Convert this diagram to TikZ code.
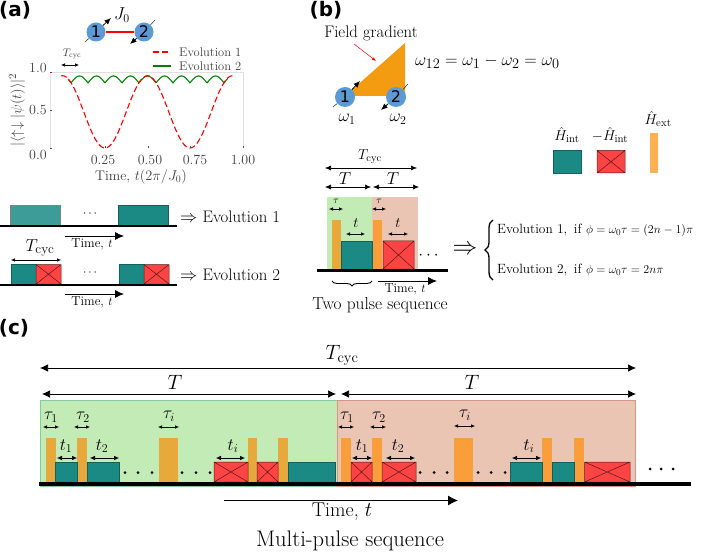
\documentclass[tikz,border=0pt]{standalone}
\usepackage{amsmath}
\usepackage{fontspec}
\newfontfamily\panelfont{DejaVu Sans}
\usepackage{tikz}
\usetikzlibrary{arrows,arrows.meta,calc,decorations.pathreplacing}
\definecolor{pulseteal}{HTML}{1B8A85}
\definecolor{pulsered}{HTML}{FC4444}
\definecolor{barongreen}{HTML}{E8A93C}
\definecolor{baronbrown}{HTML}{FA9E3C}
\definecolor{spinblue}{HTML}{5B9BD5}
\definecolor{bggreen}{HTML}{C2EBB5}
\definecolor{bgbrown}{HTML}{EAC5B3}
\definecolor{wedge}{HTML}{F39C12}
\definecolor{extbar}{HTML}{FFB055}
\newcommand{\fs}[1]{\fontsize{#1}{#1}\selectfont}
\tikzset{
	panel/.style={font=\panelfont\bfseries\fs{20}},
	spin/.style={circle,fill=spinblue,minimum size=19pt,inner sep=0pt,font=\panelfont\fs{16}},
	spinarrow/.style={line width=0.8pt,-{Latex[length=6.5pt,width=5.5pt]}},
	tealpulse/.style={fill=pulseteal,draw=pulseteal!70!black,line width=0.5pt},
	redpulse/.style={fill=pulsered,draw=black!65!pulsered,line width=0.5pt},
	baseline/.style={line width=#1,black},
	timearrow/.style={line width=0.8pt,-{Latex[length=9pt,width=8pt]}},
	span/.style={line width=0.6pt,{Latex[length=4pt,width=3.5pt]}-{Latex[length=4pt,width=3.5pt]}},
	midspan/.style={line width=0.6pt,{Latex[length=6pt,width=5pt]}-{Latex[length=6pt,width=5pt]}},
	bigspan/.style={line width=0.7pt,{Latex[length=8pt,width=7.5pt]}-{Latex[length=8pt,width=7.5pt]}}
}
\begin{document}
\begin{tikzpicture}[x=1pt,y=-1pt]
	\useasboundingbox (0,0) rectangle (706,553);
	% panel (a)
	\node[panel] (labela) at (15,10) {(a)};
	\node[spin] (spina) at (96,32) {1};
	\node[spin] (spinb) at (144,32) {2};
	\draw [red,line width=1.5pt] (spina) -- (spinb);
	\draw [line width=0.4pt] (85,42) -- (spina);
	\draw [spinarrow] (spina) -- (111,18);
	\draw [line width=0.4pt] (155,20) -- (spinb);
	\draw [spinarrow] (spinb) -- (130,44);
	\node (jlabel) at (122,15) {\fs{18}$J_0$};
	\draw [black!12,line width=0.7pt] (50,148) -- (50,72.6) -- (243,72.6) -- (243,148);
	\foreach \ya in {72.6,110.3,148} \draw [black!70,line width=0.4pt] (50,\ya) -- (52,\ya);
	\foreach \xa in {105,148,190,243} \draw [black!70,line width=0.4pt] (\xa,148) -- (\xa,146);
	\foreach \ya/\txt in {68/1.0,110/0.5,155/0.0} \node [black!75] (tick\ya) at (38,\ya) {\fs{14}\txt};
	\foreach \xa/\txt in {103/0.25,150/0.50,195/0.75,243/1.00} \node [black!75] (tick\xa) at (\xa,160) {\fs{14}\txt};
	\draw [line width=1.1pt,color=green!50!black,domain=68:228,samples=240,variable=\x] plot (\x,{83-7*abs(sin(10.588*(\x-71)))});
	\draw [line width=1.1pt,dash pattern=on 6pt off 3pt,color=red,domain=61:235,samples=120,smooth,variable=\x] plot (\x,{148-72.3*cos(2.1176*(\x-62.5))^2});
	\node [black!75,rotate=90] (ylabel) at (17,110) {\fs{15.5}$|\langle\uparrow\downarrow|\psi(t)\rangle|^2$};
	\node [black!75] (xlabel) at (141,177) {\fs{14}Time, $t(2\pi/J_0)$};
	\draw [red,line width=1.1pt,dash pattern=on 6pt off 3pt] (153,52) -- (171,52);
	\draw [green!50!black,line width=1.1pt] (153,66) -- (171,66);
	\node [black!75,anchor=west,inner sep=0pt] (evoa) at (179,52) {\fs{12.5}Evolution 1};
	\node [black!75,anchor=west,inner sep=0pt] (evob) at (179,66) {\fs{12.5}Evolution 2};
	\node [black!75] (tcyca) at (72,54) {\fs{11}$T_\text{cyc}$};
	\draw [span] (61,65) -- (79,65);
	% two evolution sequences
	\fill [pulseteal!85!white,draw=black!50,line width=0.4pt] (10,205) rectangle (60,225);
	\draw [tealpulse] (118,205) rectangle (168,225);
	\draw [baseline=2pt] (0,226) -- (177,226);
	\node (dotsa) at (91,214) {\fs{13}$\cdots$};
	\draw [timearrow] (65,236) -- (124,236);
	\node (timea) at (92,244) {\fs{13}Time, $t$};
	\node [anchor=west,inner sep=0pt] (evoc) at (180,217) {\fs{16.7}$\Rightarrow$ Evolution 1};
	\node (tcycb) at (40,248) {\fs{19}$T_\text{cyc}$};
	\draw [span] (11,260) -- (61,260);
	\foreach \xa in {11,119} \draw [tealpulse] (\xa,264.5) rectangle (\xa+25,284);
	\foreach \xa in {36,144} \draw [redpulse] (\xa,264.5) rectangle (\xa+25,284) (\xa,264.5) -- (\xa+25,284) (\xa,284) -- (\xa+25,264.5);
	\draw [baseline=2pt] (0,284.5) -- (177,284.5);
	\node (dotsb) at (91,273) {\fs{13}$\cdots$};
	\draw [timearrow] (65,294) -- (124,294);
	\node (timeb) at (92,302) {\fs{13}Time, $t$};
	\node [anchor=west,inner sep=0pt] (evod) at (180,275) {\fs{16.7}$\Rightarrow$ Evolution 2};
	% panel (b)
	\node[panel] (labelb) at (326,10) {(b)};
	\node (fieldlabel) at (371,33) {\fs{16.7}Field gradient};
	\fill [wedge] (345,96) -- (405,43) -- (405,96) -- cycle;
	\draw [red,line width=0.5pt,-{Latex[length=4pt]}] (354,44) -- (376,61);
	\node[spin,minimum size=20pt] (spinc) at (345,97) {1};
	\node[spin,minimum size=20pt] (spind) at (396,97) {2};
	\draw [line width=0.4pt] (333,107) -- (spinc);
	\draw [spinarrow] (spinc) -- (360,81);
	\draw [line width=0.4pt] (408,84) -- (spind);
	\draw [spinarrow] (spind) -- (381,110);
	\node (omegaa) at (347,119) {\fs{18}$\omega_1$};
	\node (omegab) at (398,119) {\fs{18}$\omega_2$};
	\node [anchor=west,inner sep=0pt] (omegaeq) at (415,62) {\fs{19}$\omega_{12}=\omega_1-\omega_2=\omega_0$};
	\node [inner sep=0pt] (hinta) at (567,135) {\fs{15.5}$\hat{H}_\text{int}$};
	\node [inner sep=0pt] (hintb) at (610,135) {\fs{15.5}$-\hat{H}_\text{int}$};
	\node [inner sep=0pt] (hext) at (658,119) {\fs{15.5}$\hat{H}_\text{ext}$};
	\draw [tealpulse] (553,150.5) rectangle (581,173);
	\draw [redpulse] (597,150.5) rectangle (625,173) (597,150.5) -- (625,173) (597,173) -- (625,150.5);
	\fill [extbar] (650,133) rectangle (658,173);
	% two pulse sequence
	\node (tcycc) at (370,157) {\fs{15}$T_\text{cyc}$};
	\draw [midspan] (325,168) -- (417,168);
	\node (tc) at (345,179) {\fs{18}$T$};
	\node (td) at (393,179) {\fs{18}$T$};
	\draw [midspan] (325,187) -- (371,187);
	\draw [midspan] (373,187) -- (419,187);
	\fill [bggreen] (327,197) rectangle (372,269);
	\fill [bgbrown] (372,197) rectangle (418,269);
	\node (taua) at (336,201) {\fs{10}$\tau$};
	\node (taub) at (379,201) {\fs{10}$\tau$};
	\draw [span] (329,209) -- (343,209);
	\draw [span] (372,209) -- (386,209);
	\fill [barongreen] (332,220) rectangle (341,269);
	\fill [baronbrown] (373,220) rectangle (382,269);
	\draw [tealpulse] (341,241) rectangle (372,269);
	\draw [redpulse] (383,241) rectangle (414,269) (383,241) -- (414,269) (383,269) -- (414,241);
	\node (ta) at (356,223) {\fs{15}$t$};
	\node (tb) at (398,223) {\fs{15}$t$};
	\draw [span] (346,234) -- (365,234);
	\draw [span] (388,234) -- (408,234);
	\draw [baseline=3pt] (317,270.5) -- (448,270.5);
	\node (dotsc) at (430,256) {\fs{16}$\cdots$};
	\draw [decorate,decoration={brace,mirror,amplitude=5pt},line width=0.9pt] (332,281) -- (372,281);
	\draw [timearrow] (378,281) -- (437,281);
	\node (timec) at (405,289) {\fs{13}Time, $t$};
	\node (twopulse) at (380,305) {\fs{17.3}Two pulse sequence};
	\node (implies) at (465,250) {\fs{24}$\Rightarrow$};
	\draw [decorate,decoration={brace,amplitude=8pt},line width=1.3pt] (493,280) -- (493,220);
	\node [anchor=west,inner sep=0pt] (casea) at (497,230) {\fs{13.4}Evolution 1,\, if \fs{13}$\phi=\omega_0\tau=(2n-1)\pi$};
	\node [anchor=west,inner sep=0pt] (caseb) at (497,270) {\fs{13.4}Evolution 2,\, if \fs{13}$\phi=\omega_0\tau=2n\pi$};
	% panel (c)
	\node[panel] (labelc) at (14,328) {(c)};
	\node (tcycd) at (342,355) {\fs{21}$T_\text{cyc}$};
	\draw [bigspan] (40,368) -- (636,368);
	\node (te) at (175,382) {\fs{21}$T$};
	\node (tf) at (472,382) {\fs{21}$T$};
	\draw [bigspan] (42,394) -- (336,394);
	\draw [bigspan] (341,394) -- (636,394);
	\draw [fill=bggreen,draw=pulseteal!35!bggreen,line width=0.8pt] (40,400.5) rectangle (337,486);
	\draw [fill=bgbrown,draw=pulsered!25!bgbrown!90!black,line width=0.8pt] (337,400.5) rectangle (635,486);
	% pulses of the two halves
	\foreach \xa/\xb in {45.5/55.5,77/87,159/178,248/257,278/288} \fill [barongreen] (\xa,438) rectangle (\xb,482);
	\foreach \xa/\xb in {341/351,372/382,454/473,542/552,574/584} \fill [baronbrown] (\xa,438) rectangle (\xb,482);
	\foreach \xa/\xb in {55.5/77,87/119,288/335,510/542,552.5/574} \draw [tealpulse] (\xa,462) rectangle (\xb,482);
	\foreach \xa/\xb in {214/248,257/278,351/372,382/416,584.5/630} \draw [redpulse] (\xa,462) rectangle (\xb,482) (\xa,462) -- (\xb,482) (\xa,482) -- (\xb,462);
	\draw [baseline=4pt] (39,483.5) -- (691,483.5);
	\foreach \xa in {125,138,152,182,196,210,420,434,447,478,491,505} \fill (\xa,472.5) circle (1.5pt);
	\foreach \xa in {650,661,673} \fill (\xa,469) circle (1.5pt);
	\foreach \xa/\ya/\txt in {51/417/\tau_1,83/417/\tau_2,169/416/\tau_i,347/417/\tau_1,379/417/\tau_2,465/415/\tau_i,66/446/t_1,102/446/t_2,233/446/t_i,362/446/t_1,398/446/t_2,529/446/t_i} \node (lab\xa) at (\xa,\ya) {\fs{17}$\txt$};
	\foreach \xa/\xb in {43/59,74/90,158/179,338/354,370/386} \draw [span] (\xa,427) -- (\xb,427);
	\draw [span] (454,426) -- (475,426);
	\foreach \xa/\xb in {57/77,90/119,216/245,352/372,386/415,512/541} \draw [span,{Latex[length=5pt,width=4.5pt]}-{Latex[length=5pt,width=4.5pt]}] (\xa,458) -- (\xb,458);
	\draw [line width=0.8pt,-{Latex[length=10pt,width=10pt]}] (224,500.5) -- (458,500.5);
	\node (timed) at (342,512) {\fs{20}Time, $t$};
	\node (multi) at (350,541) {\fs{22.5}Multi-pulse sequence};
\end{tikzpicture}
\end{document}
